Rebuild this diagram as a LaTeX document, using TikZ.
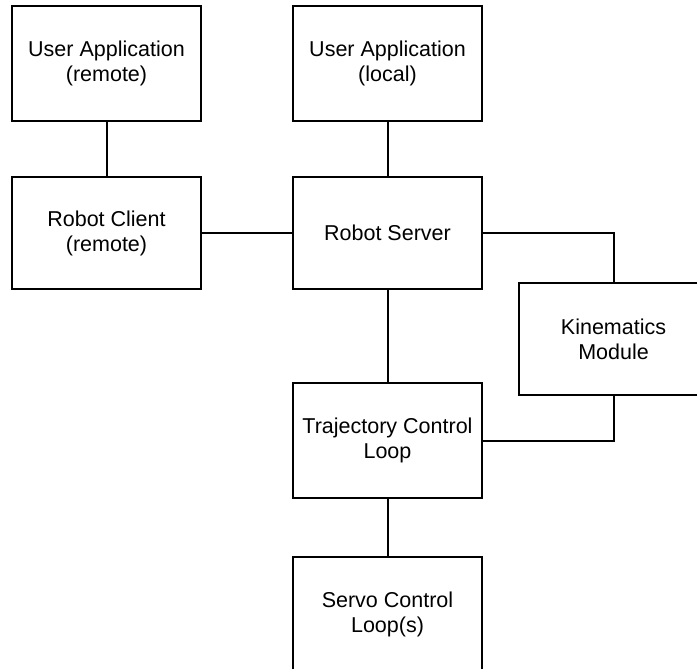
\documentclass[tikz,border=0pt]{standalone}
\usepackage{fontspec}
\setmainfont{Liberation Sans}
\begin{document}
\begin{tikzpicture}[x=1bp,y=-1bp,
  blk/.style={draw=black, line width=2bp, fill=white, inner sep=0pt,
    minimum width=189bp, align=center,
    font=\fontsize{21.5bp}{25bp}\selectfont},
  conn/.style={draw=black, line width=2bp}]
\useasboundingbox (0,0) rectangle (697,669);
\clip (0,0) rectangle (697,669);
\fill[white] (0,0) rectangle (697,669);
\node[blk, minimum height=115bp] (uar) at (106.5,63.5) {User Application\\(remote)};
\node[blk, minimum height=115bp] (ual) at (387.5,63.5) {User Application\\(local)};
\node[blk, minimum height=112bp] (rc) at (106.5,233) {Robot Client\\(remote)};
\node[blk, minimum height=112bp] (rs) at (387.5,233) {Robot Server};
\node[blk, minimum height=112bp] (km) at (613.5,339) {Kinematics\\Module};
\node[blk, minimum height=115bp] (tcl) at (387.5,440.5) {Trajectory Control\\Loop};
\node[blk, minimum height=115bp] (scl) at (387.5,614.5) {Servo Control\\Loop(s)};
\draw[conn] (uar) -- (rc);
\draw[conn] (ual) -- (rs);
\draw[conn] (rc) -- (rs);
\draw[conn] (rs) -- (tcl);
\draw[conn] (tcl) -- (scl);
\draw[conn] (rs.east) -| (km.north);
\draw[conn] (km.south) |- (tcl.east);
\end{tikzpicture}
\end{document}
